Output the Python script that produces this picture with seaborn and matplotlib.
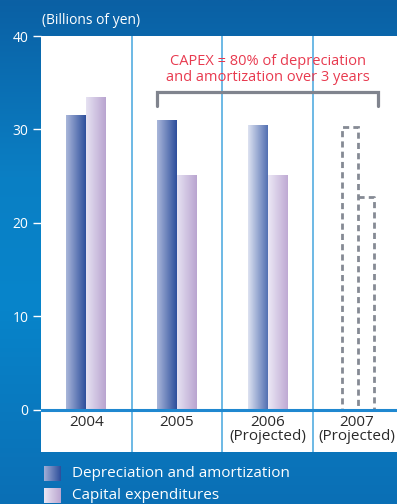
import numpy as np
import pandas as pd
import matplotlib.pyplot as plt
import seaborn as sns
from matplotlib.colors import LinearSegmentedColormap

# data (billions of yen)
years = ['2004', '2005', '2006', '2007']
year_labels = ['2004', '2005', '2006\n(Projected)', '2007\n(Projected)']
depreciation = [31.5, 31.0, 30.5, 30.3]
capex = [33.5, 25.1, 25.1, 22.8]
series_names = ['Depreciation and amortization', 'Capital expenditures']
y_ticks = [0, 10, 20, 30, 40]
note = 'CAPEX = 80% of depreciation\nand amortization over 3 years'

df = pd.DataFrame({
    'year': years * 2,
    'series': [series_names[0]] * len(years) + [series_names[1]] * len(years),
    'value': depreciation + capex,
})

sns.set_theme(style='white')
plt.rcParams['font.family'] = ['Open Sans', 'DejaVu Sans']

W, H = 397, 504
fig = plt.figure(figsize=(W / 100, H / 100), dpi=100)

# blue gradient background
bg = fig.add_axes([0, 0, 1, 1], zorder=-10)
bg_cmap = LinearSegmentedColormap.from_list(
    'bg', [(0, '#0b60a4'), (0.35, '#0a7fc4'), (0.6, '#0785cb'), (1, '#0b6fb5')])
bg.imshow(np.linspace(0, 1, 256).reshape(-1, 1), aspect='auto', cmap=bg_cmap,
          extent=[0, 1, 0, 1], origin='upper')
bg.axis('off')

ax = fig.add_axes([41 / W, 1 - 452 / H, 1 - 41 / W, (452 - 36) / H])
ax.set_facecolor('white')

bar_w = 0.44
sns.barplot(data=df, x='year', y='value', hue='series', width=bar_w, ax=ax,
            palette=['#4a66aa', '#c8b8dc'], saturation=1, legend=False, zorder=2)

grads = {
    0: LinearSegmentedColormap.from_list('d', ['#a9b6da', '#2e4f9c']),
    1: LinearSegmentedColormap.from_list('c', ['#e6e2f2', '#b9a4d0']),
}
grads_proj = {
    0: LinearSegmentedColormap.from_list('dp', ['#dde2f1', '#5370b2']),
    1: LinearSegmentedColormap.from_list('cp', ['#ece8f5', '#bfaad4']),
}
ramp = np.linspace(0, 1, 64).reshape(1, -1)
dash_col = '#858a94'
dash_style = (0, (2.2, 1.5))

for k, cont in enumerate(ax.containers):
    for i, bar in enumerate(cont):
        x0, y0 = bar.get_x(), bar.get_y()
        w, h = bar.get_width(), bar.get_height()
        if i == 3:
            # 2007: dashed outline, slightly narrower
            nw = w * 0.8
            bar.set_facecolor('none')
            if k == 0:
                bar.set_x(x0 + w - nw)
                bar.set_width(nw)
                bar.set_edgecolor(dash_col)
                bar.set_linewidth(2.0)
                bar.set_linestyle(dash_style)
            else:
                # shares its left side with the neighbouring bar
                bar.set_edgecolor('none')
                ax.plot([x0, x0 + nw, x0 + nw], [h, h, 0], color=dash_col,
                        lw=2.0, linestyle=dash_style, zorder=2)
        else:
            bar.set_facecolor('none')
            bar.set_edgecolor('none')
            cmap = grads_proj[k] if i == 2 else grads[k]
            ax.imshow(ramp, aspect='auto', cmap=cmap,
                      extent=[x0, x0 + w, y0, y0 + h], zorder=2)

ax.set_xlim(-0.5, 3.425)
ax.set_ylim(-4.55, 40)

for xd in [0.5, 1.5, 2.5]:
    ax.axvline(xd, color='#6db9e5', lw=1.4, zorder=1)
ax.axhline(0, color='#1f88d0', lw=2.2, zorder=3)

for s in ax.spines.values():
    s.set_visible(False)
ax.set_xlabel('')
ax.set_ylabel('')
ax.set_yticks(y_ticks)
ax.tick_params(axis='x', bottom=False, labelbottom=False)
ax.tick_params(axis='y', left=True, direction='out', length=6, width=1,
               color='white', labelcolor='white', labelsize=10, pad=3)

for i, lab in enumerate(year_labels):
    ax.text(i - (0.02 if i == 3 else 0), -0.55, lab, ha='center', va='top',
            fontsize=11, color='#2a2a2a', linespacing=0.95, clip_on=False)

# note and bracket
ax.text(2.0, 36.4, note, ha='center', va='center', fontsize=10.5,
        color='#e83a4f', linespacing=1.15)
left = 1 - bar_w / 2
right = 3 + bar_w / 2
ax.plot([left, left, right, right], [32.5, 34.0, 34.0, 32.5],
        color='#80848e', lw=2.3, solid_joinstyle='miter', zorder=4)

fig.text(42 / W, 1 - 20 / H, '(Billions of yen)', ha='left', va='center',
         fontsize=10, color='white')

# legend
leg_cmaps = [LinearSegmentedColormap.from_list('l0', ['#a0aed6', '#2d4e9b']),
             LinearSegmentedColormap.from_list('l1', ['#eae6f3', '#bba6d1'])]
for j, (name, top) in enumerate(zip(series_names, [466, 488])):
    sq = fig.add_axes([44 / W, 1 - (top + 15) / H, 16 / W, 15 / H])
    sq.imshow(ramp, aspect='auto', cmap=leg_cmaps[j])
    sq.axis('off')
    fig.text(72 / W, 1 - (top + 7.5) / H, name, ha='left', va='center',
             fontsize=11, color='white')

fig.savefig('out.png', dpi=100)
